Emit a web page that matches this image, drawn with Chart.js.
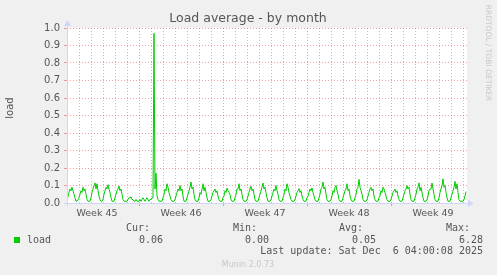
<!DOCTYPE html>
<html>
<head>
<meta charset="utf-8">
<script src="https://cdn.jsdelivr.net/npm/chart.js@4/dist/chart.umd.min.js"></script>
<style>
  html, body { margin: 0; padding: 0; background: #f0f0f0; }
  canvas { display: block; }
</style>
</head>
<body>
<canvas id="loadChart" width="497" height="275"></canvas>
<script>
// load average, 2h samples, one row per day (12 samples)
const loadValues = [
  0.01, 0.04, 0.06, 0.08, 0.07, 0.09, 0.07, 0.05, 0.03, 0.01, 0.01, 0.02,
  0.03, 0.05, 0.07, 0.06, 0.09, 0.07, 0.08, 0.05, 0.02, 0.01, 0.01, 0.01,
  0.03, 0.06, 0.08, 0.10, 0.115, 0.08, 0.11, 0.07, 0.04, 0.02, 0.01, 0.01,
  0.02, 0.05, 0.07, 0.09, 0.08, 0.105, 0.08, 0.06, 0.03, 0.01, 0.01, 0.01,
  0.03, 0.05, 0.07, 0.08, 0.097, 0.07, 0.08, 0.05, 0.02, 0.01, 0.01, 0.01,
  0.01, 0.02, 0.03, 0.03, 0.035, 0.02, 0.02, 0.01, 0.01, 0.02, 0.01, 0.01,
  0.01, 0.02, 0.01, 0.02, 0.03, 0.02, 0.01, 0.02, 0.03, 0.02, 0.01, 0.02,
  0.02, 0.03, 0.03, 0.97, 0.08, 0.17, 0.04, 0.02, 0.01, 0.01, 0.01, 0.01,
  0.03, 0.05, 0.08, 0.07, 0.11, 0.09, 0.06, 0.04, 0.02, 0.01, 0.01, 0.01,
  0.02, 0.04, 0.06, 0.08, 0.07, 0.10, 0.07, 0.08, 0.04, 0.01, 0.01, 0.01,
  0.03, 0.05, 0.07, 0.09, 0.12, 0.08, 0.09, 0.05, 0.02, 0.01, 0.01, 0.01,
  0.03, 0.06, 0.05, 0.08, 0.11, 0.07, 0.09, 0.06, 0.03, 0.01, 0.01, 0.01,
  0.02, 0.04, 0.06, 0.07, 0.08, 0.06, 0.07, 0.04, 0.02, 0.01, 0.01, 0.01,
  0.03, 0.04, 0.07, 0.06, 0.085, 0.07, 0.06, 0.05, 0.02, 0.01, 0.01, 0.01,
  0.03, 0.05, 0.08, 0.08, 0.11, 0.07, 0.08, 0.05, 0.02, 0.01, 0.01, 0.01,
  0.02, 0.04, 0.06, 0.08, 0.095, 0.07, 0.08, 0.05, 0.02, 0.01, 0.01, 0.01,
  0.03, 0.05, 0.07, 0.09, 0.114, 0.08, 0.09, 0.06, 0.03, 0.01, 0.01, 0.01,
  0.02, 0.04, 0.06, 0.08, 0.07, 0.10, 0.07, 0.05, 0.02, 0.01, 0.01, 0.01,
  0.03, 0.05, 0.08, 0.07, 0.11, 0.09, 0.06, 0.04, 0.02, 0.01, 0.01, 0.01,
  0.02, 0.04, 0.06, 0.07, 0.082, 0.06, 0.07, 0.04, 0.02, 0.01, 0.01, 0.01,
  0.03, 0.04, 0.06, 0.08, 0.07, 0.086, 0.06, 0.04, 0.02, 0.01, 0.01, 0.01,
  0.03, 0.05, 0.08, 0.09, 0.12, 0.08, 0.09, 0.05, 0.02, 0.01, 0.01, 0.01,
  0.02, 0.04, 0.07, 0.06, 0.09, 0.10, 0.07, 0.05, 0.02, 0.01, 0.01, 0.01,
  0.03, 0.05, 0.07, 0.08, 0.11, 0.07, 0.08, 0.04, 0.02, 0.01, 0.01, 0.01,
  0.03, 0.05, 0.08, 0.09, 0.135, 0.09, 0.07, 0.05, 0.02, 0.01, 0.01, 0.01,
  0.02, 0.04, 0.06, 0.08, 0.09, 0.07, 0.08, 0.04, 0.02, 0.01, 0.01, 0.01,
  0.03, 0.04, 0.07, 0.06, 0.09, 0.08, 0.06, 0.04, 0.02, 0.01, 0.01, 0.01,
  0.02, 0.04, 0.06, 0.07, 0.08, 0.06, 0.07, 0.04, 0.02, 0.01, 0.01, 0.01,
  0.03, 0.05, 0.07, 0.08, 0.10, 0.08, 0.09, 0.05, 0.02, 0.01, 0.01, 0.01,
  0.03, 0.05, 0.08, 0.09, 0.115, 0.07, 0.09, 0.06, 0.03, 0.01, 0.01, 0.01,
  0.02, 0.04, 0.07, 0.08, 0.08, 0.114, 0.08, 0.05, 0.02, 0.01, 0.01, 0.01,
  0.03, 0.06, 0.08, 0.10, 0.138, 0.09, 0.10, 0.06, 0.03, 0.01, 0.01, 0.01,
  0.03, 0.05, 0.07, 0.09, 0.124, 0.08, 0.11, 0.06, 0.02, 0.01, 0.01, 0.01,
  0.01, 0.02, 0.04, 0.065,
];
const sampleHours = 2;
const spanHours = 800;

// week boundaries (hours from graph start) and label positions
const weekStarts = [144, 312, 480, 648];
const weekLabels = ["Week 45", "Week 46", "Week 47", "Week 48", "Week 49"];
const weekLabelHours = [60, 228, 396, 564, 732];

const legendHeaders = ["Cur:", "Min:", "Avg:", "Max:"];
const legendStats = ["0.06", "0.00", "0.05", "6.28"];
const lastUpdate = "Last update: Sat Dec  6 04:00:08 2025";

const points = loadValues.map((v, i) => ({ x: i * sampleHours, y: v }));

const GREEN = "#00cc00";
const AXIS = "#cfd6f8";
const MINOR = "rgba(120,120,120,0.45)";
const MAJOR = "rgba(230,70,70,0.5)";
const FONT = "#555";

const frame = {
  id: "frame",
  beforeDraw(chart) {
    const { ctx, chartArea: a } = chart;
    ctx.save();
    ctx.fillStyle = "#f0f0f0";
    ctx.fillRect(0, 0, chart.width, chart.height);
    ctx.fillStyle = "#fff";
    ctx.fillRect(a.left, a.top, a.right - a.left, a.bottom - a.top);
    ctx.restore();
  },
  afterDraw(chart) {
    const { ctx, chartArea: a } = chart;
    ctx.save();
    // axes + arrows
    ctx.strokeStyle = AXIS;
    ctx.fillStyle = AXIS;
    ctx.lineWidth = 1;
    ctx.beginPath();
    ctx.moveTo(a.left + 0.5, a.bottom + 3);
    ctx.lineTo(a.left + 0.5, a.top - 4);
    ctx.moveTo(a.left - 3, a.bottom + 0.5);
    ctx.lineTo(a.right + 3, a.bottom + 0.5);
    ctx.stroke();
    ctx.beginPath();
    ctx.moveTo(a.left + 0.5, a.top - 8);
    ctx.lineTo(a.left - 3, a.top - 2);
    ctx.lineTo(a.left + 4, a.top - 2);
    ctx.fill();
    ctx.beginPath();
    ctx.moveTo(a.right + 7, a.bottom + 0.5);
    ctx.lineTo(a.right + 1, a.bottom - 3);
    ctx.lineTo(a.right + 1, a.bottom + 4);
    ctx.fill();

    // title
    ctx.fillStyle = FONT;
    ctx.textAlign = "center";
    ctx.textBaseline = "middle";
    ctx.font = "12.5px 'DejaVu Sans'";
    ctx.fillText("Load average - by month", 248, 19);

    // y title
    ctx.save();
    ctx.translate(10, 108);
    ctx.rotate(-Math.PI / 2);
    ctx.font = "10px 'DejaVu Sans'";
    ctx.fillText("load", 0, 0);
    ctx.restore();

    // rrdtool credit
    ctx.save();
    ctx.translate(488, 53);
    ctx.rotate(Math.PI / 2);
    ctx.fillStyle = "#c8c8c8";
    ctx.font = "7.5px 'DejaVu Sans'";
    ctx.fillText("RRDTOOL / TOBI OETIKER", 0, 0);
    ctx.restore();

    // legend
    ctx.fillStyle = GREEN;
    ctx.fillRect(14, 237, 6, 6);
    ctx.fillStyle = FONT;
    ctx.font = "10px 'DejaVu Sans Mono'";
    ctx.textAlign = "left";
    ctx.fillText("load", 27, 240);
    const headerRight = [150, 257, 363, 470];
    const statRight = [163, 269, 376, 483];
    ctx.textAlign = "right";
    legendHeaders.forEach((h, i) => ctx.fillText(h, headerRight[i], 228));
    legendStats.forEach((s, i) => ctx.fillText(s, statRight[i], 240));
    ctx.fillText(lastUpdate, 483, 251);

    ctx.textAlign = "center";
    ctx.fillStyle = "#c8c8c8";
    ctx.font = "8px 'DejaVu Sans'";
    ctx.fillText("Munin 2.0.73", 248, 265);
    ctx.restore();
  },
};

const ctx = document.getElementById("loadChart").getContext("2d");

new Chart(ctx, {
  type: "line",
  data: {
    datasets: [
      {
        label: "load",
        data: points,
        borderColor: GREEN,
        borderWidth: 1,
        pointRadius: 0,
        tension: 0,
        fill: false,
      },
    ],
  },
  options: {
    responsive: false,
    animation: false,
    devicePixelRatio: 1,
    layout: { padding: { left: 0, top: 28, right: 30, bottom: 52 } },
    plugins: { legend: { display: false }, tooltip: { enabled: false } },
    scales: {
      x: {
        type: "linear",
        min: 0,
        max: spanHours,
        afterBuildTicks: (scale) => {
          const ticks = [];
          for (let h = 12; h < spanHours; h += 12) ticks.push({ value: h });
          scale.ticks = ticks;
        },
        afterFit: (scale) => {
          scale.height = 20;
        },
        ticks: {
          autoSkip: false,
          maxRotation: 0,
          padding: 2,
          color: FONT,
          font: { family: "DejaVu Sans", size: 9.5 },
          callback: (v) => {
            const i = weekLabelHours.indexOf(v);
            return i >= 0 ? weekLabels[i] : "";
          },
        },
        grid: {
          lineWidth: 1,
          tickLength: 3,
          color: (c) => {
            const v = c.tick ? c.tick.value : -1;
            if (weekStarts.includes(v)) return MAJOR;
            if (v % 24 === 0) return MINOR;
            return "rgba(0,0,0,0)";
          },
          tickColor: (c) => {
            const v = c.tick ? c.tick.value : -1;
            return weekStarts.includes(v) ? MAJOR : "rgba(0,0,0,0)";
          },
        },
        border: { display: false, dash: [1, 2] },
      },
      y: {
        min: 0,
        max: 1,
        afterBuildTicks: (scale) => {
          const ticks = [];
          for (let k = 1; k <= 20; k++) ticks.push({ value: k / 20 });
          ticks.unshift({ value: 0 });
          scale.ticks = ticks;
        },
        afterFit: (scale) => {
          scale.width = 67;
        },
        ticks: {
          padding: 4,
          color: FONT,
          font: { family: "DejaVu Sans", size: 10 },
          callback: (v) => (Math.round(v * 20) % 2 === 0 ? v.toFixed(1) : ""),
        },
        grid: {
          lineWidth: 1,
          tickLength: 3,
          color: (c) => {
            const v = c.tick ? Math.round(c.tick.value * 20) : -1;
            if (v === 0) return "rgba(0,0,0,0)";
            return v % 2 === 0 ? MAJOR : MINOR;
          },
          tickColor: (c) => {
            const v = c.tick ? Math.round(c.tick.value * 20) : -1;
            return v % 2 === 0 && v > 0 ? MAJOR : "rgba(0,0,0,0)";
          },
        },
        border: { display: false, dash: [1, 2] },
      },
    },
  },
  plugins: [frame],
});
</script>
</body>
</html>
